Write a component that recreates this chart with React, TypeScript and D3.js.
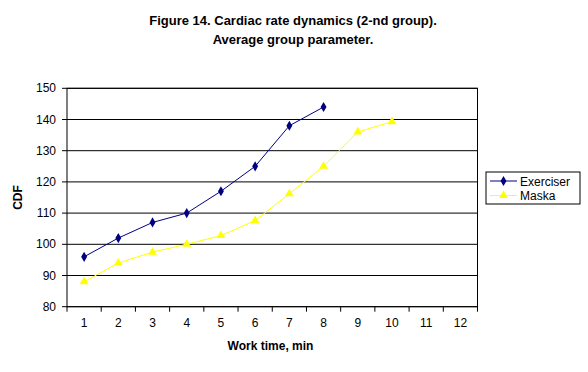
import React from 'react';
import * as d3 from 'd3';

const minutes = ['1', '2', '3', '4', '5', '6', '7', '8', '9', '10', '11', '12'];
const exerciser = [96, 102, 107, 110, 117, 125, 138, 144];
const maska = [88, 94, 97.5, 100, 102.8, 107.6, 116.2, 125, 136, 139.3];
const yTicks = [80, 90, 100, 110, 120, 130, 140, 150];

const W = 588;
const H = 372;
const m = { left: 67, right: 477.5, top: 88.3, bottom: 306.7 };
const font = '"Liberation Sans", Arial, sans-serif';

function App() {
  const x = d3.scaleBand().domain(minutes).range([m.left, m.right]);
  const y = d3.scaleLinear().domain([80, 150]).range([m.bottom, m.top]);
  const cx = (i: number) => (x(minutes[i]) || 0) + x.bandwidth() / 2;

  const line = d3.line<number>().x((_, i) => cx(i)).y(d => y(d));
  const tri = d3.symbol().type(d3.symbolTriangle).size(34)() || '';
  const dia = d3.symbol().type(d3.symbolDiamond).size(30)() || '';

  const borders = [...minutes.map(d => x(d) || 0), m.right];

  return (
    <svg width={W} height={H} style={{ display: 'block', position: 'absolute', left: 0, top: 0 }}
      fontFamily={font}>
      <rect width={W} height={H} fill="#fff" />
      <text x={293} y={25} textAnchor="middle" fontSize={13} fontWeight="bold">
        Figure 14. Cardiac rate dynamics (2-nd group).
      </text>
      <text x={293} y={44} textAnchor="middle" fontSize={13} fontWeight="bold">
        Average group parameter.
      </text>

      {/* grid */}
      {yTicks.map(t => (
        <line key={t} x1={m.left} x2={m.right} y1={y(t)} y2={y(t)} stroke="#000" strokeWidth={1} />
      ))}
      <rect x={m.left} y={m.top} width={m.right - m.left} height={m.bottom - m.top}
        fill="none" stroke="#000" strokeWidth={1} />

      {/* y axis */}
      {yTicks.map(t => (
        <g key={t}>
          <line x1={m.left - 5} x2={m.left} y1={y(t)} y2={y(t)} stroke="#000" />
          <text x={m.left - 11} y={y(t) + 4} textAnchor="end" fontSize={12}>{t}</text>
        </g>
      ))}
      <text transform={`translate(22,${(m.top + m.bottom) / 2}) rotate(-90)`} textAnchor="middle"
        fontSize={12} fontWeight="bold">CDF</text>

      {/* x axis */}
      {borders.map((b, i) => (
        <line key={i} x1={b} x2={b} y1={m.bottom} y2={m.bottom + 5} stroke="#000" />
      ))}
      {minutes.map((d, i) => (
        <text key={d} x={cx(i)} y={327} textAnchor="middle" fontSize={12}>{d}</text>
      ))}
      <text x={270.5} y={350} textAnchor="middle" fontSize={12} fontWeight="bold">Work time, min</text>

      {/* series */}
      <path d={line(maska) || ''} fill="none" stroke="#ffff00" strokeWidth={1} />
      {maska.map((v, i) => (
        <path key={i} d={tri} transform={`translate(${cx(i)},${y(v)})`} fill="#ffff00" />
      ))}
      <path d={line(exerciser) || ''} fill="none" stroke="#000080" strokeWidth={1} />
      {exerciser.map((v, i) => (
        <path key={i} d={dia} transform={`translate(${cx(i)},${y(v)})`} fill="#000080" />
      ))}

      {/* legend */}
      <rect x={486} y={172} width={94} height={32} fill="#fff" stroke="#000" />
      <line x1={490} x2={517} y1={181} y2={181} stroke="#000080" />
      <path d={dia} transform="translate(503.5,181)" fill="#000080" />
      <text x={520} y={185.5} fontSize={12}>Exerciser</text>
      <line x1={490} x2={517} y1={195.5} y2={195.5} stroke="#ffff00" />
      <path d={tri} transform="translate(503.5,195.5)" fill="#ffff00" />
      <text x={520} y={200} fontSize={12}>Maska</text>
    </svg>
  );
}

export default App;
